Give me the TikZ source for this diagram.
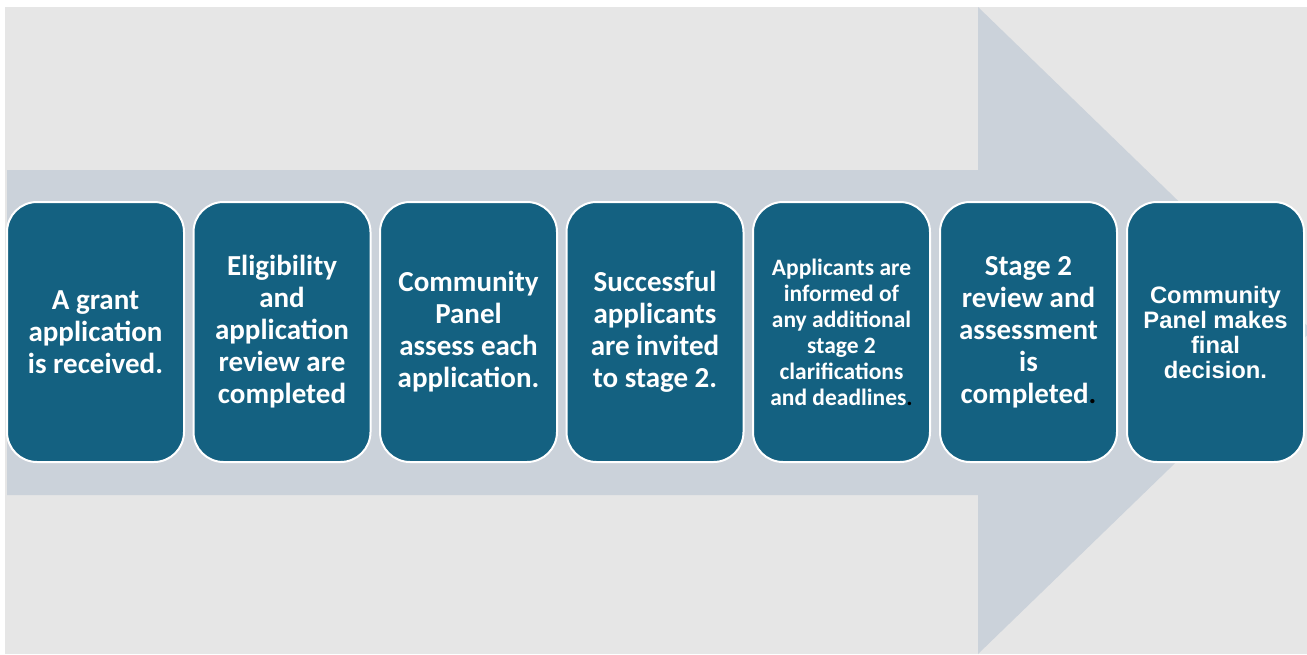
\documentclass[tikz,border=0pt]{standalone}
\usepackage{fontspec}
\setmainfont{Carlito}
\newfontfamily\arialfont{Liberation Sans}
\definecolor{bggray}{HTML}{E6E6E6}
\definecolor{arrowgray}{HTML}{CBD2DA}
\definecolor{boxblue}{HTML}{146181}
\begin{document}
\begin{tikzpicture}[x=1pt,y=-1pt,
  stepbox/.style={rectangle, rounded corners=30pt, minimum width=177pt, minimum height=260pt,
    draw=white, line width=2pt, fill=boxblue, text=white, align=center, inner sep=0pt,
    font=\bfseries\fontsize{29}{32}\selectfont},
  smalltext/.style={font=\bfseries\fontsize{23.5}{26}\selectfont},
  arialtext/.style={font=\arialfont\bfseries\fontsize{23.8}{25}\selectfont}]
\fill[white] (0,0) rectangle (1307,654);
\useasboundingbox (0,0) rectangle (1307,654);
\fill[bggray] (5,7) rectangle (1307,654);
\begin{scope}
\clip (5,7) rectangle (1307,654);
\fill[arrowgray] (7,170) -- (978,170) -- (978,7) -- (1312,330.5) -- (978,654) -- (978,495) -- (7,495) -- cycle;
\end{scope}
\node[stepbox] (s1) at (95.5,332) {A grant\\application\\is received.};
\node[stepbox] (s2) at (282,332) {Eligibility\\and\\application\\review are\\completed};
\node[stepbox] (s3) at (468.5,332) {Community\\Panel\\assess each\\application.};
\node[stepbox] (s4) at (655,332) {Successful\\applicants\\are invited\\to stage 2.};
\node[stepbox, smalltext] (s5) at (841.5,332) {Applicants are\\informed of\\any additional\\stage 2\\clarifications\\and deadlines{\color{black}.}};
\node[stepbox] (s6) at (1028.5,332) {Stage 2\\review and\\assessment\\is\\completed{\color{black}.}};
\node[stepbox, arialtext] (s7) at (1215.5,332) {Community\\Panel makes\\final\\decision.};
\end{tikzpicture}
\end{document}
